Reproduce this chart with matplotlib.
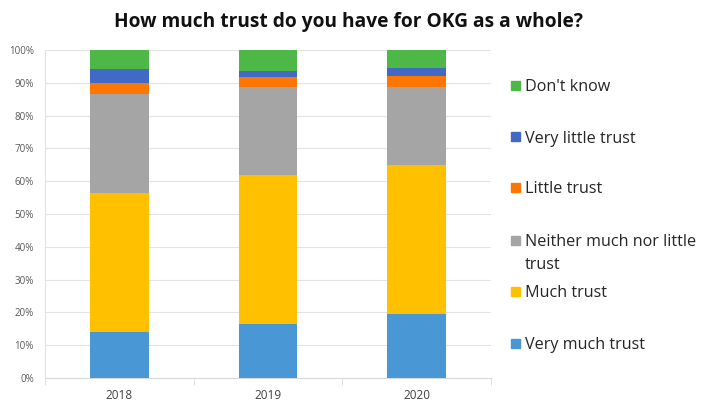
import numpy as np
import matplotlib.pyplot as plt
from matplotlib.patches import Rectangle

plt.rcParams['font.family'] = ['Open Sans', 'DejaVu Sans']

years = ['2018', '2019', '2020']
categories = ['Very much trust', 'Much trust', 'Neither much nor little\ntrust',
              'Little trust', 'Very little trust', "Don't know"]
very_much = [14.0, 16.4, 19.5]
much = [42.5, 45.6, 45.5]
neither = [30.1, 26.7, 23.7]
little = [3.4, 3.0, 3.3]
very_little = [4.1, 2.0, 2.5]
dont_know = [5.9, 6.3, 5.5]
colors = ['#4a97d6', '#ffc000', '#a5a5a5', '#ff7700', '#4369c6', '#4db748']

series = [very_much, much, neither, little, very_little, dont_know]

fig = plt.figure(figsize=(7.01, 4.03), dpi=100)
ax = fig.add_axes([45/701, 25/403, 446/701, 328/403])

x = np.arange(len(years))
bottom = np.zeros(len(years))
for vals, c in zip(series, colors):
    ax.bar(x, vals, 0.395, bottom=bottom, color=c, zorder=3)
    bottom += np.array(vals)

ax.set_xlim(-0.5, 2.5)
ax.set_ylim(0, 100)
ax.set_yticks(np.arange(0, 101, 10))
ax.set_yticklabels([f'{v}%' for v in range(0, 101, 10)], fontsize=7, color='#595959')
ax.set_xticks(x)
ax.set_xticklabels(years, fontsize=8.5, color='#404040')
ax.set_xticks([-0.5, 0.5, 1.5, 2.5], minor=True)
ax.tick_params(axis='y', length=0, pad=8)
ax.tick_params(axis='x', which='major', length=0, pad=8)
ax.tick_params(axis='x', which='minor', length=5, color='#d9d9d9')
ax.grid(axis='y', color='#e3e3e3', linewidth=0.8, zorder=0)
for s in ['top', 'right']:
    ax.spines[s].set_visible(False)
ax.spines['bottom'].set_color('#d9d9d9')
ax.spines['left'].set_color('#e3e3e3')
ax.spines['left'].set_linewidth(0.8)

fig.text(0.497, 1 - 22/403, 'How much trust do you have for OKG as a whole?',
         ha='center', va='center', fontsize=13.8, fontweight='bold', color='#111111')

# legend, top to bottom
ys = [85, 137, 187, 240, 291, 343]
for i, yy in enumerate(ys):
    k = len(categories) - 1 - i
    fig.patches.append(Rectangle((511/701, 1 - (yy + 4.5)/403), 9/701, 9/403,
                                 transform=fig.transFigure, color=colors[k]))
    fig.text(525/701, 1 - (yy - 6)/403, categories[k], ha='left', va='top',
             fontsize=11.6, color='#262626', linespacing=1.55)

fig.savefig('out.png', dpi=100)
